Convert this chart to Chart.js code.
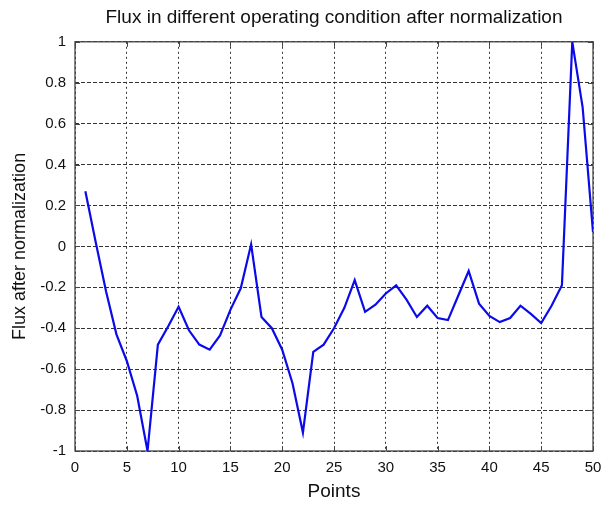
<!DOCTYPE html>
<html>
<head>
<meta charset="utf-8">
<script src="https://cdn.jsdelivr.net/npm/chart.js@4.4.1/dist/chart.umd.min.js"></script>
<style>
  html, body { margin: 0; padding: 0; background: #fff; }
  #wrap { width: 601px; height: 506px; }
</style>
</head>
<body>
<div id="wrap"><canvas id="flux"></canvas></div>
<script>
// sample index along the x axis
var points = [1, 2, 3, 4, 5, 6, 7, 8, 9, 10,
              11, 12, 13, 14, 15, 16, 17, 18, 19, 20,
              21, 22, 23, 24, 25, 26, 27, 28, 29, 30,
              31, 32, 33, 34, 35, 36, 37, 38, 39, 40,
              41, 42, 43, 44, 45, 46, 47, 48, 49, 50];

// normalized flux at each point
var flux = [0.27, 0.02, -0.22, -0.43, -0.56, -0.73, -1.0, -0.48, -0.39, -0.295,
            -0.41, -0.48, -0.505, -0.435, -0.31, -0.205, 0.01, -0.345, -0.40, -0.505,
            -0.67, -0.91, -0.515, -0.48, -0.40, -0.30, -0.165, -0.32, -0.285, -0.23,
            -0.19, -0.26, -0.345, -0.29, -0.35, -0.36, -0.24, -0.12, -0.28, -0.34,
            -0.37, -0.35, -0.29, -0.33, -0.375, -0.29, -0.19, 1.0, 0.68, 0.07];

var xTicks = [0, 5, 10, 15, 20, 25, 30, 35, 40, 45, 50];
var yTicks = [-1, -0.8, -0.6, -0.4, -0.2, 0, 0.2, 0.4, 0.6, 0.8, 1];
var yTickLabels = ["-1", "-0.8", "-0.6", "-0.4", "-0.2", "0", "0.2", "0.4", "0.6", "0.8", "1"];

var fontFamily = "'Liberation Sans', Arial, sans-serif";

var data = [];
for (var i = 0; i < points.length; i++) {
    data.push({ x: points[i], y: flux[i] });
}

// axes box with short inward tick marks on all four sides
var boxPlugin = {
    id: "axesBox",
    beforeDatasetsDraw: function(chart) {
        var ctx = chart.ctx;
        var a = chart.chartArea;
        var xs = chart.scales.x;
        var ys = chart.scales.y;
        var len = 5;
        ctx.save();
        ctx.strokeStyle = "#444";
        ctx.lineWidth = 1;
        ctx.setLineDash([]);
        ctx.beginPath();
        xTicks.forEach(function(v) {
            var px = Math.round(xs.getPixelForValue(v)) + 0.5;
            ctx.moveTo(px, a.bottom); ctx.lineTo(px, a.bottom - len);
            ctx.moveTo(px, a.top); ctx.lineTo(px, a.top + len);
        });
        yTicks.forEach(function(v) {
            var py = Math.round(ys.getPixelForValue(v)) + 0.5;
            ctx.moveTo(a.left, py); ctx.lineTo(a.left + len, py);
            ctx.moveTo(a.right, py); ctx.lineTo(a.right - len, py);
        });
        ctx.stroke();
        ctx.lineWidth = 1.3;
        ctx.strokeRect(a.left, a.top, a.right - a.left, a.bottom - a.top);
        ctx.restore();
    }
};

var ctx = document.getElementById("flux");
new Chart(ctx, {
    type: "line",
    data: {
        datasets: [{
            label: "Flux",
            data: data,
            borderColor: "#0b0bea",
            borderWidth: 2.2,
            pointRadius: 0,
            tension: 0,
            fill: false
        }]
    },
    options: {
        responsive: true,
        maintainAspectRatio: false,
        animation: false,
        devicePixelRatio: 1,
        layout: { autoPadding: false, padding: { left: 0, right: 8, top: 0, bottom: 0 } },
        plugins: {
            legend: { display: false },
            tooltip: { enabled: false },
            title: {
                display: true,
                fullSize: false,
                text: "Flux in different operating condition after normalization",
                color: "#111",
                font: { family: fontFamily, size: 19, weight: "normal" },
                padding: { top: 6, bottom: 13 }
            }
        },
        scales: {
            x: {
                type: "linear",
                min: 0,
                max: 50,
                afterFit: function(s) {
                    s.height = 55;
                    s.paddingLeft = 0;
                    s.paddingRight = 0;
                },
                afterBuildTicks: function(s) {
                    s.ticks = xTicks.map(function(v) { return { value: v }; });
                },
                // dash here styles the vertical grid lines
                border: { display: false, dash: [2, 3] },
                grid: {
                    color: "#333",
                    lineWidth: 1,
                    drawTicks: false
                },
                ticks: {
                    color: "#111",
                    padding: 8,
                    maxRotation: 0,
                    font: { family: fontFamily, size: 15 }
                },
                title: {
                    display: true,
                    text: "Points",
                    color: "#111",
                    font: { family: fontFamily, size: 19 },
                    padding: { top: 0, bottom: 3 }
                }
            },
            y: {
                type: "linear",
                min: -1,
                max: 1,
                afterFit: function(s) {
                    s.width = 75;
                    s.paddingTop = 0;
                    s.paddingBottom = 0;
                },
                afterBuildTicks: function(s) {
                    s.ticks = yTicks.map(function(v) { return { value: v }; });
                },
                border: { display: false, dash: [4, 2] },
                grid: {
                    color: "#333",
                    lineWidth: 1,
                    drawTicks: false
                },
                ticks: {
                    color: "#111",
                    padding: 9,
                    font: { family: fontFamily, size: 15 },
                    callback: function(value, index) { return yTickLabels[index]; }
                },
                title: {
                    display: true,
                    text: "Flux after normalization",
                    color: "#111",
                    font: { family: fontFamily, size: 18 },
                    padding: { top: 9, bottom: 0 }
                }
            }
        }
    },
    plugins: [boxPlugin]
});
</script>
</body>
</html>
